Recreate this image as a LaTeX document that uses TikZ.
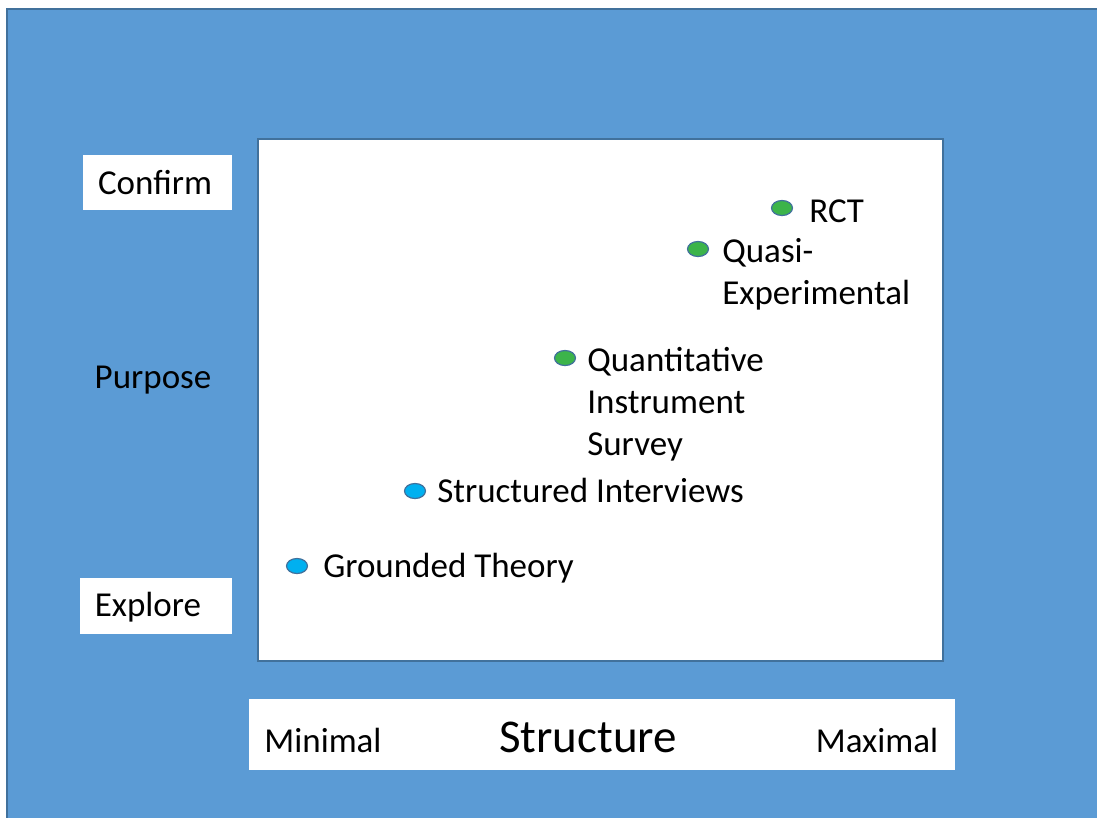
\documentclass[tikz,border=0pt]{standalone}
\usepackage{fontspec}
\setmainfont{Carlito}
\usetikzlibrary{positioning,shapes.geometric}
\definecolor{slideblue}{HTML}{5B9BD5}
\definecolor{edgeblue}{HTML}{41719C}
\definecolor{dotgreen}{HTML}{3CB44A}
\definecolor{dotcyan}{HTML}{00B0F0}
\begin{document}
\begin{tikzpicture}[x=1pt,y=-1pt,
    dot/.style={ellipse,draw=edgeblue,line width=1.2pt,minimum width=21pt,minimum height=15pt,inner sep=0pt},
    greendot/.style={dot,fill=dotgreen},
    cyandot/.style={dot,fill=dotcyan},
    lbl/.style={inner sep=0pt,align=left,font=\fontsize{35pt}{42pt}\selectfont,yshift=-11pt},
    multilbl/.style={inner sep=0pt,align=left,font=\fontsize{35pt}{42pt}\selectfont,yshift=11pt},
    axistext/.style={font=\fontsize{35pt}{42pt}\selectfont}]
  \useasboundingbox (0,0) rectangle (1097,817);
  \fill[white] (0,0) rectangle (1097,817);
  \draw[fill=slideblue,draw=edgeblue,line width=2pt] (7,9) rectangle (1110,830);
  % plot area
  \draw[fill=white,draw=edgeblue,line width=1.5pt] (258,139) rectangle (943,661);
  % purpose axis
  \fill[white] (83,155) rectangle (232,210);
  \fill[white] (80,578) rectangle (232,634);
  \node[axistext] (confirm) at (155,183) {Confirm};
  \node[axistext] (purpose) at (153,380) {Purpose};
  \node[axistext] (explore) at (148,607) {Explore};
  % structure axis
  \fill[white] (249,699) rectangle (955,770);
  \node[axistext] (minimal) at (323,740) {Minimal};
  \node[font=\fontsize{47pt}{56pt}\selectfont] (structure) at (588,737) {Structure};
  \node[axistext] (maximal) at (877,740) {Maximal};
  % methods
  \node[greendot] (rctdot) at (782,208) {};
  \node[lbl,right=16pt of rctdot,anchor=base west,yshift=-3pt] (rct) {RCT};
  \node[greendot] (quasidot) at (698,249) {};
  \node[multilbl,right=13pt of quasidot,anchor=north west] (quasi) {Quasi-\\Experimental};
  \node[greendot] (quantdot) at (565,358) {};
  \node[multilbl,right=11pt of quantdot,anchor=north west] (quant) {Quantitative\\Instrument\\Survey};
  \node[cyandot] (structdot) at (415,491) {};
  \node[lbl,right=11pt of structdot,anchor=base west] (struct) {Structured Interviews};
  \node[cyandot] (groundeddot) at (297,566) {};
  \node[lbl,right=15pt of groundeddot,anchor=base west] (grounded) {Grounded Theory};
\end{tikzpicture}
\end{document}
